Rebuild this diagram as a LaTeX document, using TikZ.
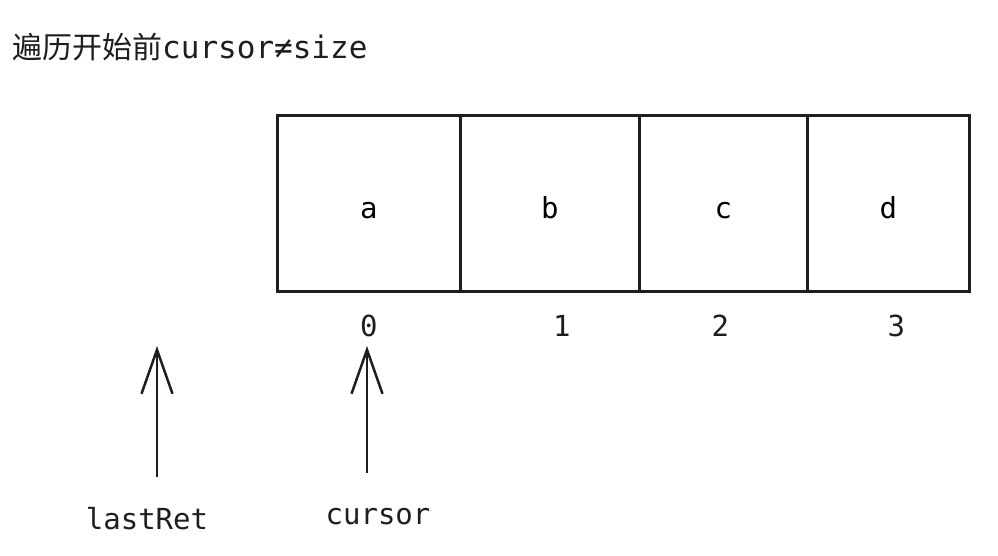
\documentclass[tikz,border=0pt]{standalone}
\usepackage{fontspec}
\setmonofont{DejaVu Sans Mono}
\newfontfamily\cjk{Noto Sans CJK SC}
\usetikzlibrary{matrix, positioning, arrows.meta}
\definecolor{ink}{HTML}{1E1E1E}
\tikzset{
  strip/.style={
    matrix of nodes,
    inner sep=0pt,
    column sep=-2.5pt,
    nodes={rectangle, draw=ink, line width=2.5pt, align=center,
      font=\ttfamily\fontsize{29}{34}\selectfont,
      inner sep=0pt, outer sep=0pt, minimum height=176pt,
      text height=34pt, text depth=4pt},
    column 1/.style={nodes={minimum width=183pt}},
    column 2/.style={nodes={minimum width=179pt}},
    column 3/.style={nodes={minimum width=168pt}},
    column 4/.style={nodes={minimum width=162pt}},
  },
  lbl/.style={
    font=\ttfamily\fontsize{29}{34}\selectfont, text=ink, inner sep=0pt
  },
  ptr/.style={
    -{Straight Barb[length=44pt, width=31pt]}, line width=2.5pt, draw=ink
  }
}
\begin{document}
\begin{tikzpicture}[x=1pt, y=-1pt]
  \useasboundingbox (0,0) rectangle (998,556);
  \node[lbl, anchor=west, font=\ttfamily\fontsize{31}{36}\selectfont] (title) at (12,47)
    {{\cjk\fontsize{30}{36}\selectfont 遍历开始前}cursor≠size};
  \matrix (cells) [strip, anchor=north west] at (276,114) {
    a&b&c&d\\
  };
  \node[lbl] (idx-0) at ([yshift=-34pt]cells-1-1.south) {0};
  \node[lbl] (idx-1) at ([xshift=12pt, yshift=-34pt]cells-1-2.south) {1};
  \node[lbl] (idx-2) at ([xshift=-3pt, yshift=-34pt]cells-1-3.south) {2};
  \node[lbl] (idx-3) at ([xshift=8pt, yshift=-34pt]cells-1-4.south) {3};
  \node[lbl] (lastret) at (147,519) {lastRet};
  \node[lbl] (cursor) at (378,517) {cursor};
  \coordinate (lastret-tail) at (157,477);
  \coordinate (lastret-head) at (157,346);
  \coordinate (cursor-tail) at (367,473);
  \coordinate (cursor-head) at (367,346);
  \draw[ptr] (lastret-tail) -- (lastret-head);
  \draw[ptr] (cursor-tail) -- (cursor-head);
\end{tikzpicture}
\end{document}
